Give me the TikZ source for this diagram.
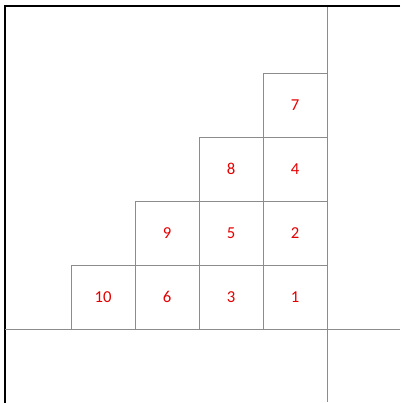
\documentclass[tikz,border=0pt]{standalone}
\usepackage{fontspec}
\setmainfont{Carlito}
\usepackage{tikz}
\usetikzlibrary{positioning}

\begin{document}
\begin{tikzpicture}[
  x=0.02cm, y=-0.02cm,
  font=\fontsize{9.5}{11}\selectfont,
  cell/.style={draw=black!45, line width=0.55pt, minimum size=1.28cm,
               inner sep=0pt, text=red!90!black},
  axis/.style={draw=black!45, line width=0.55pt},
  frame/.style={draw=black, line width=1.5pt}
]
\useasboundingbox (0,0) rectangle (400,403);
% frame and axes
\coordinate (tl) at (5,6);
\coordinate (tr) at (400,6);
\coordinate (bl) at (5,403);
\draw[frame] (tr) -- (tl) -- (bl);
\coordinate (vtop) at (327,7);
\coordinate (vbot) at (327,402);
\coordinate (hl) at (5,329);
\coordinate (hr) at (400,329);
\draw[axis] (vtop) -- (vbot);
\draw[axis] (hl) -- (hr);
% cells
\node[cell] (c1)  at (295,297) {1};
\node[cell] (c2)  at (295,233) {2};
\node[cell] (c4)  at (295,169) {4};
\node[cell] (c7)  at (295,105) {7};
\node[cell] (c3)  at (231,297) {3};
\node[cell] (c5)  at (231,233) {5};
\node[cell] (c8)  at (231,169) {8};
\node[cell] (c6)  at (167,297) {6};
\node[cell] (c9)  at (167,233) {9};
\node[cell] (c10) at (103,297) {10};
\end{tikzpicture}
\end{document}
